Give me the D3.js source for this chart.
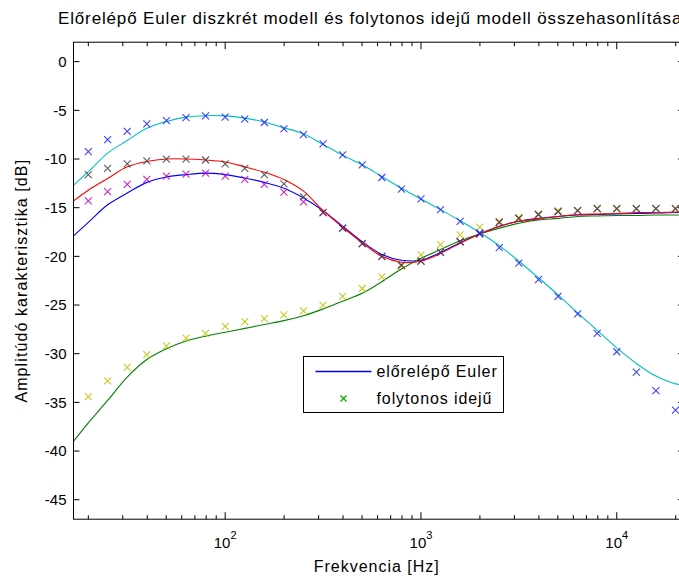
<!DOCTYPE html>
<html>
<head>
<meta charset="utf-8">
<script src="https://cdn.jsdelivr.net/npm/d3@7"></script>
<style>
  body { margin: 0; background: #fff; }
  text { font-family: "Liberation Sans", Arial, Helvetica, sans-serif; fill: #000; }
</style>
</head>
<body>
<svg id="chart" width="679" height="579"></svg>
<script>
// frequencies of the sampled points (Hz)
var markFreqs = [20, 25.1, 31.6, 39.8, 50.1, 63.1, 79.4, 100, 125.9, 158.5, 199.5, 251.2, 316.2, 398.1, 501.2, 631, 794.3,
  1000, 1259, 1585, 1995, 2512, 3162, 3981, 5012, 6310, 7943, 10000, 12589, 15849, 19953];
var lineFreqs = [16.8, 20, 25.1, 31.6, 39.8, 50.1, 63.1, 79.4, 100, 125.9, 158.5, 199.5, 251.2, 316.2, 398.1, 501.2, 631, 794.3,
  1000, 1259, 1585, 1995, 2512, 3162, 3981, 5012, 6310, 7943, 10000, 12589, 15849, 19953, 22050];

// continuous lines (dB)
var blueLine = [-17.9, -16.5, -14.7, -13.5, -12.4, -11.85, -11.6, -11.45, -11.6, -11.95, -12.4, -13.0, -14.0, -15.3, -16.9, -18.5, -19.8, -20.4,
  -20.4, -19.6, -18.6, -17.7, -16.9, -16.4, -16.1, -15.9, -15.75, -15.7, -15.65, -15.6, -15.55, -15.5, -15.5];
var greenLine = [-39.0, -37.1, -34.8, -32.4, -30.6, -29.5, -28.7, -28.2, -27.8, -27.4, -27.0, -26.6, -26.1, -25.4, -24.6, -23.8, -22.6, -21.3,
  -20.2, -19.3, -18.4, -17.7, -17.1, -16.6, -16.25, -16.1, -15.9, -15.85, -15.8, -15.8, -15.75, -15.75, -15.75];
var redLine = [-14.3, -13.2, -12.0, -10.8, -10.25, -10.0, -10.0, -10.1, -10.3, -10.8, -11.35, -12.1, -13.3, -15.3, -17.0, -18.6, -20.0, -20.6,
  -20.5, -19.7, -18.65, -17.7, -16.9, -16.4, -16.15, -15.9, -15.7, -15.65, -15.6, -15.5, -15.5, -15.45, -15.45];
var cyanLine = [-12.7, -11.3, -9.4, -8.1, -6.85, -6.15, -5.7, -5.55, -5.57, -5.8, -6.2, -6.8, -7.4, -8.5, -9.6, -10.6, -11.8, -13.0,
  -14.1, -15.2, -16.35, -17.55, -18.9, -20.5, -22.2, -23.95, -25.8, -27.6, -29.4, -31.0, -32.3, -33.1, -33.2];

// x markers (dB)
var magentaMarks = [-14.3, -13.35, -12.6, -12.1, -11.75, -11.55, -11.45, -11.75, -12.1, -12.6, -13.4, -14.4, -15.5, -17.1, -18.7, -20.0, -20.9,
  -20.5, -19.6, -18.5, -17.7, -16.5, -16.1, -15.7, -15.4, -15.3, -15.1, -15.1, -15.1, -15.1, -15.1];
var yellowMarks = [-34.4, -32.8, -31.4, -30.1, -29.2, -28.4, -27.9, -27.2, -26.7, -26.4, -26.0, -25.6, -25.0, -24.1, -23.3, -22.1, -21.0,
  -19.85, -18.8, -17.8, -17.0, -16.4, -16.0, -15.7, -15.3, -15.3, -15.1, -15.1, -15.1, -15.1, -15.1];
var grayMarks = [-11.6, -10.95, -10.5, -10.2, -10.0, -10.0, -10.1, -10.5, -10.95, -11.6, -12.55, -13.9, -15.5, -17.1, -18.7, -20.0, -20.9,
  -20.5, -19.6, -18.5, -17.7, -16.5, -16.1, -15.7, -15.4, -15.3, -15.1, -15.1, -15.1, -15.1, -15.1];
var blueMarks = [-9.25, -8.0, -7.15, -6.4, -6.05, -5.75, -5.57, -5.7, -5.9, -6.25, -6.9, -7.5, -8.45, -9.58, -10.6, -11.9, -13.1,
  -14.1, -15.2, -16.4, -17.6, -19.1, -20.7, -22.4, -24.1, -25.9, -27.9, -29.8, -31.9, -33.8, -35.8];

var yTicks = [0, -5, -10, -15, -20, -25, -30, -35, -40, -45];
var xMajor = [100, 1000, 10000];
var xMajorExp = ["2", "3", "4"];
var xMinor = [20, 30, 40, 50, 60, 70, 80, 90, 200, 300, 400, 500, 600, 700, 800, 900,
  2000, 3000, 4000, 5000, 6000, 7000, 8000, 9000, 20000];

var titleText = "Előrelépő Euler diszkrét modell és folytonos idejű modell összehasonlítása";
var xLabel = "Frekvencia [Hz]";
var yLabel = "Amplitúdó karakterisztika [dB]";
var legendLabels = ["előrelépő Euler", "folytonos idejű"];

var margin = {top: 42.2, left: 73.5},
    width = 610.5,
    height = 477;

var svg = d3.select("#chart");
var g = svg.append("g").attr("transform", "translate(" + margin.left + "," + margin.top + ")");

var x = d3.scaleLog().domain([16.8, 22050]).range([0, width]);
var y = d3.scaleLinear().domain([-47, 2]).range([height, 0]);

svg.append("defs").append("clipPath").attr("id", "clip")
  .append("rect").attr("width", width).attr("height", height);

var plot = g.append("g").attr("clip-path", "url(#clip)");

var line = d3.line()
  .x(function(d) { return x(d[0]); })
  .y(function(d) { return y(d[1]); })
  .curve(d3.curveCatmullRom.alpha(0.5));

var lines = [
  {vals: blueLine, color: "#0000ff"},
  {vals: greenLine, color: "#008000"},
  {vals: redLine, color: "#ff0000"},
  {vals: cyanLine, color: "#00bfbf"}
];
lines.forEach(function(s) {
  plot.append("path")
    .datum(d3.zip(lineFreqs, s.vals))
    .attr("fill", "none")
    .attr("stroke", s.color)
    .attr("stroke-width", 1.1)
    .attr("d", line);
});

var marks = [
  {vals: magentaMarks, color: "#bf00bf"},
  {vals: yellowMarks, color: "#bfbf00"},
  {vals: grayMarks, color: "#404040"},
  {vals: blueMarks, color: "#2020ff"}
];
var ms = 3.5;
function cross(px, py) {
  return "M" + (px - ms) + "," + (py - ms) + "L" + (px + ms) + "," + (py + ms) +
         "M" + (px - ms) + "," + (py + ms) + "L" + (px + ms) + "," + (py - ms);
}
marks.forEach(function(s) {
  plot.append("g").selectAll("path")
    .data(d3.zip(markFreqs, s.vals))
    .enter().append("path")
      .attr("d", function(d) { return cross(x(d[0]), y(d[1])); })
      .attr("stroke", s.color)
      .attr("stroke-opacity", 0.85)
      .attr("stroke-width", 1.1)
      .attr("fill", "none");
});

// box
g.append("rect")
  .attr("width", width).attr("height", height)
  .attr("fill", "none").attr("stroke", "#000").attr("stroke-width", 1);

// y ticks (left and right, pointing inwards)
yTicks.forEach(function(t) {
  var yy = y(t);
  g.append("line").attr("x1", 0).attr("x2", 6).attr("y1", yy).attr("y2", yy).attr("stroke", "#000");
  g.append("line").attr("x1", width).attr("x2", width - 6).attr("y1", yy).attr("y2", yy).attr("stroke", "#000");
  g.append("text")
    .attr("x", -7).attr("y", yy).attr("dy", "0.36em")
    .attr("text-anchor", "end")
    .style("font-size", "15px")
    .text(t);
});

// x ticks
xMinor.forEach(function(t) {
  var xx = x(t);
  g.append("line").attr("x1", xx).attr("x2", xx).attr("y1", height).attr("y2", height - 4).attr("stroke", "#000");
  g.append("line").attr("x1", xx).attr("x2", xx).attr("y1", 0).attr("y2", 4).attr("stroke", "#000");
});
xMajor.forEach(function(t, i) {
  var xx = x(t);
  g.append("line").attr("x1", xx).attr("x2", xx).attr("y1", height).attr("y2", height - 7).attr("stroke", "#000");
  g.append("line").attr("x1", xx).attr("x2", xx).attr("y1", 0).attr("y2", 7).attr("stroke", "#000");
  var lbl = g.append("text")
    .attr("x", xx).attr("y", height + 29)
    .attr("text-anchor", "middle")
    .style("font-size", "15px");
  lbl.append("tspan").text("10");
  lbl.append("tspan").attr("dy", -9).style("font-size", "11px").text(xMajorExp[i]);
});

// title and axis labels
svg.append("text")
  .attr("x", 58).attr("y", 24)
  .style("font-size", "17px").style("letter-spacing", "0.85px")
  .text(titleText);

svg.append("text")
  .attr("x", margin.left + width / 2 - 2).attr("y", 572)
  .attr("text-anchor", "middle")
  .style("font-size", "16px").style("letter-spacing", "1px")
  .text(xLabel);

svg.append("text")
  .attr("transform", "translate(27," + (margin.top + height / 2) + ") rotate(-90)")
  .attr("text-anchor", "middle")
  .style("font-size", "16px").style("letter-spacing", "1.1px")
  .text(yLabel);

// legend
var lg = svg.append("g").attr("transform", "translate(303.5,356.5)");
lg.append("rect").attr("width", 200).attr("height", 56)
  .attr("fill", "#fff").attr("stroke", "#000").attr("stroke-width", 1);
lg.append("line").attr("x1", 12).attr("x2", 68).attr("y1", 15).attr("y2", 15)
  .attr("stroke", "#0000ff").attr("stroke-width", 1.3);
lg.append("path").attr("d", function() { ms = 3; return cross(40, 42); })
  .attr("stroke", "#00b000").attr("stroke-width", 1.3).attr("fill", "none");
legendLabels.forEach(function(t, i) {
  lg.append("text")
    .attr("x", 73).attr("y", 15 + i * 27).attr("dy", "0.36em")
    .style("font-size", "16px").style("letter-spacing", "0.9px")
    .text(t);
});
</script>
</body>
</html>
